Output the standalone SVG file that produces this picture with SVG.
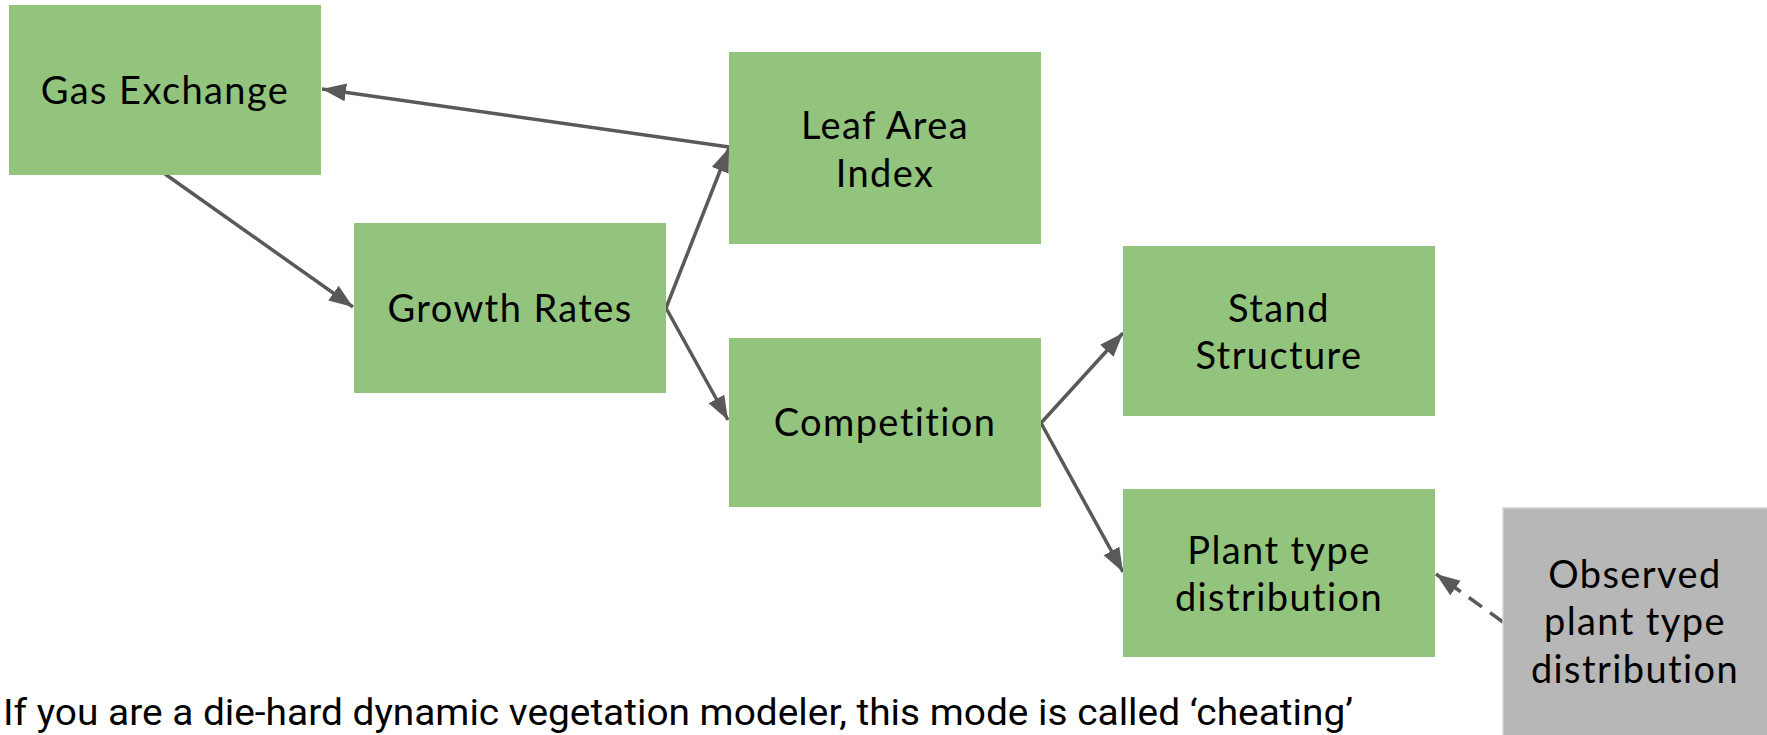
<svg xmlns="http://www.w3.org/2000/svg" width="1767" height="735" viewBox="0 0 1767 735">
<style>
.box{fill:#93c47d}
.obs{fill:#b7b7b7;stroke:#d4d4d4;stroke-width:1.5}
.lbl{font-family:Lato,"Noto Sans",sans-serif;font-size:38px;fill:#000;text-anchor:middle;letter-spacing:1.4px}
.edge{stroke:#595959;stroke-width:3.5;fill:none;marker-end:url(#ah)}
.dash{stroke-dasharray:16 10}
.note{font-family:Roboto,"Liberation Sans",sans-serif;font-size:36px;fill:#000}
</style>
<defs>
<marker id="ah" markerUnits="userSpaceOnUse" markerWidth="26" markerHeight="20" refX="24" refY="9" orient="auto">
<path d="M0,0 L24,9 L0,18 z" fill="#595959"/>
</marker>
</defs>
<rect width="1767" height="735" fill="#fff"/>
<g id="connectors">
<line class="edge" x1="729" y1="147" x2="322" y2="89"/>
<line class="edge" x1="165" y1="174" x2="353" y2="307"/>
<line class="edge" x1="666" y1="308" x2="729" y2="148"/>
<line class="edge" x1="666" y1="308" x2="728" y2="420"/>
<line class="edge" x1="1041" y1="423" x2="1123" y2="333"/>
<line class="edge" x1="1041" y1="423" x2="1123" y2="572"/>
<line class="edge dash" x1="1503" y1="622" x2="1436" y2="574"/>
</g>
<g id="gas-exchange">
<rect class="box" x="9" y="5" width="312" height="170"/>
<text class="lbl" x="165" y="104">Gas Exchange</text>
</g>
<g id="leaf-area-index">
<rect class="box" x="729" y="52" width="312" height="192"/>
<text class="lbl" x="885" y="139">Leaf Area</text>
<text class="lbl" x="885" y="187">Index</text>
</g>
<g id="growth-rates">
<rect class="box" x="354" y="223" width="312" height="170"/>
<text class="lbl" x="510" y="322">Growth Rates</text>
</g>
<g id="competition">
<rect class="box" x="729" y="338" width="312" height="169"/>
<text class="lbl" x="885" y="436">Competition</text>
</g>
<g id="stand-structure">
<rect class="box" x="1123" y="246" width="312" height="170"/>
<text class="lbl" x="1279" y="322">Stand</text>
<text class="lbl" x="1279" y="369">Structure</text>
</g>
<g id="plant-type-distribution">
<rect class="box" x="1123" y="489" width="312" height="168"/>
<text class="lbl" x="1279" y="564">Plant type</text>
<text class="lbl" x="1279" y="611">distribution</text>
</g>
<g id="observed-plant-type-distribution">
<rect class="obs" x="1503" y="508" width="290" height="250"/>
<text class="lbl" x="1635" y="588">Observed</text>
<text class="lbl" x="1635" y="635">plant type</text>
<text class="lbl" x="1635" y="683">distribution</text>
</g>
<text class="note" x="3" y="725" textLength="1350" lengthAdjust="spacingAndGlyphs">If you are a die-hard dynamic vegetation modeler, this mode is called ‘cheating’</text>
</svg>
